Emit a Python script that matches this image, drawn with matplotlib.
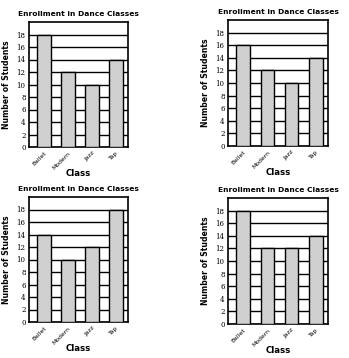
import matplotlib
matplotlib.use("Agg")
import matplotlib.pyplot as plt

categories = ["Ballet", "Modern", "Jazz", "Tap"]
values_tl = [18, 12, 10, 14]
values_tr = [16, 12, 10, 14]
values_bl = [14, 10, 12, 18]
values_br = [18, 12, 12, 14]
yticks = [0, 2, 4, 6, 8, 10, 12, 14, 16, 18]
title = "Enrollment in Dance Classes"

W, H = 349, 358
fig = plt.figure(figsize=(W / 100, H / 100), dpi=100)

def box(l, r, t, b):
    return [l / W, 1 - b / H, (r - l) / W, (b - t) / H]

panels = [
    (values_tl, box(29, 128, 22, 147)),
    (values_tr, box(228, 328, 20, 146)),
    (values_bl, box(29, 128, 197, 322)),
    (values_br, box(228, 328, 198, 324)),
]

for vals, rect in panels:
    ax = fig.add_axes(rect)
    x = list(range(len(categories)))
    ax.set_axisbelow(True)
    ax.yaxis.grid(True, color="black", linewidth=1.0)
    ax.bar(x, vals, width=0.56, color="#d0d0d0", edgecolor="black", linewidth=1.0, zorder=3)
    ax.set_xlim(-0.62, 3.5)
    ax.set_ylim(0, 20)
    ax.set_yticks(yticks)
    ax.set_yticklabels([str(v) for v in yticks], fontsize=5, family="DejaVu Serif")
    ax.set_xticks(x)
    ax.set_xticklabels(categories, fontsize=4.4, rotation=45, ha="right", rotation_mode="anchor")
    ax.tick_params(length=0, pad=2.5)
    for s in ax.spines.values():
        s.set_linewidth(1.2)
    ax.set_title(title, fontsize=5.4, fontweight="bold", pad=4)
    ax.set_ylabel("Number of Students", fontsize=5.6, fontweight="bold", labelpad=4)
    ax.set_xlabel("Class", fontsize=6.2, fontweight="bold", labelpad=-1)

fig.savefig("out.png", dpi=100)
